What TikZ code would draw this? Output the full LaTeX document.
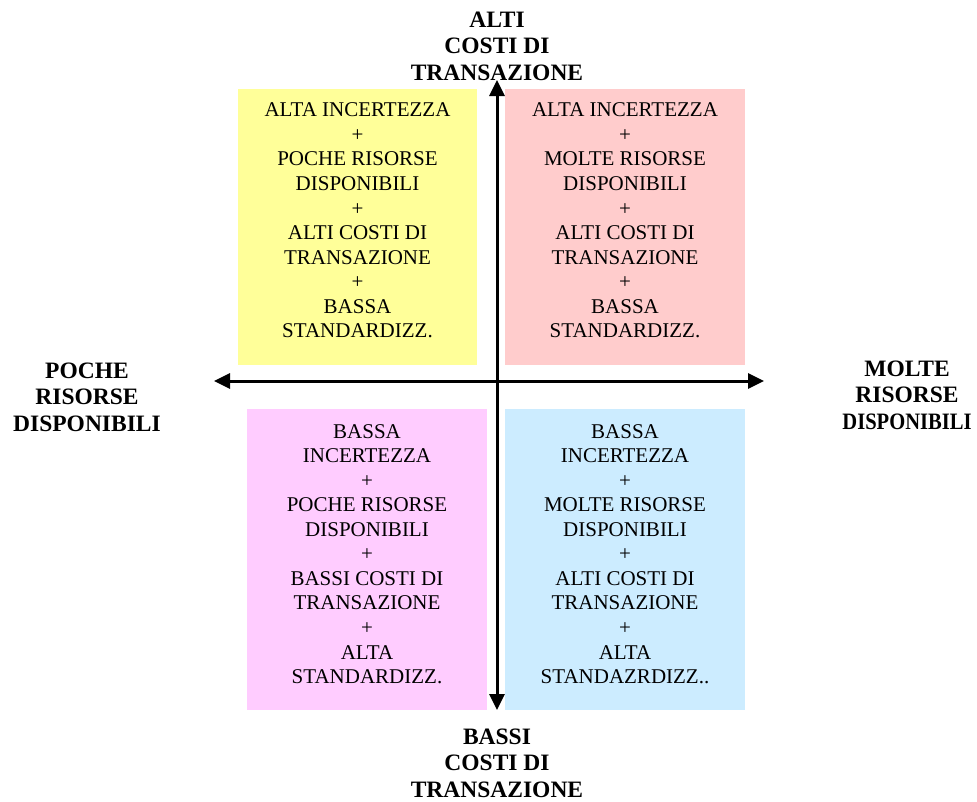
\documentclass[tikz,border=0pt]{standalone}
\usepackage{graphicx}
\usepackage{fontspec}
\setmainfont{Liberation Serif}
\usetikzlibrary{arrows.meta}
\definecolor{cyel}{HTML}{FFFF99}
\definecolor{cpink}{HTML}{FFCCCC}
\definecolor{cmag}{HTML}{FFCCFF}
\definecolor{cblue}{HTML}{CCECFF}
\begin{document}
\begin{tikzpicture}[x=1pt,y=-1pt,
  quad/.style={draw=none, inner sep=0pt, anchor=north west},
  boxtext/.style={align=center, inner sep=0pt, font=\fontsize{21}{24.55}\selectfont},
  axlabel/.style={align=center, inner sep=0pt, font=\bfseries\fontsize{23.5}{26.5}\selectfont},
  axis/.style={line width=3pt, {Triangle[width=15pt,length=16pt]}-{Triangle[width=15pt,length=16pt]}}]
\useasboundingbox (0,0) rectangle (977,801);
% quadrant boxes
\node[quad, fill=cyel, minimum width=239pt, minimum height=276pt] (tl) at (238,89) {};
\node[quad, fill=cpink, minimum width=240pt, minimum height=276pt] (tr) at (505,89) {};
\node[quad, fill=cmag, minimum width=240pt, minimum height=301pt] (bl) at (247,409) {};
\node[quad, fill=cblue, minimum width=240pt, minimum height=301pt] (br) at (505,409) {};
% box texts
\node[boxtext] (tlt) at (357.5,220.5) {ALTA INCERTEZZA\\+\\POCHE RISORSE\\DISPONIBILI\\+\\ALTI COSTI DI\\TRANSAZIONE\\+\\BASSA\\STANDARDIZZ.};
\node[boxtext] (trt) at (625,220.5) {ALTA INCERTEZZA\\+\\MOLTE RISORSE\\DISPONIBILI\\+\\ALTI COSTI DI\\TRANSAZIONE\\+\\BASSA\\STANDARDIZZ.};
\node[boxtext] (blt) at (367,554) {BASSA\\INCERTEZZA\\+\\POCHE RISORSE\\DISPONIBILI\\+\\BASSI COSTI DI\\TRANSAZIONE\\+\\ALTA\\STANDARDIZZ.};
\node[boxtext] (brt) at (625,554) {BASSA\\INCERTEZZA\\+\\MOLTE RISORSE\\DISPONIBILI\\+\\ALTI COSTI DI\\TRANSAZIONE\\+\\ALTA\\STANDAZRDIZZ..};
% axes
\coordinate (west) at (214,381);
\coordinate (east) at (764,381);
\coordinate (north) at (497,80);
\coordinate (south) at (497,710);
\draw[axis] (west) -- (east);
\draw[axis] (south) -- (north);
% axis labels
\node[axlabel] (top) at (497,46) {ALTI\\COSTI DI\\TRANSAZIONE};
\node[axlabel] (bot) at (497,763) {BASSI\\COSTI DI\\TRANSAZIONE};
\node[axlabel] (lft) at (87,397) {POCHE\\RISORSE\\DISPONIBILI};
\node[axlabel] (rgt) at (907,395) {MOLTE\\RISORSE\\\scalebox{0.875}[1]{DISPONIBILI}};
\end{tikzpicture}
\end{document}
